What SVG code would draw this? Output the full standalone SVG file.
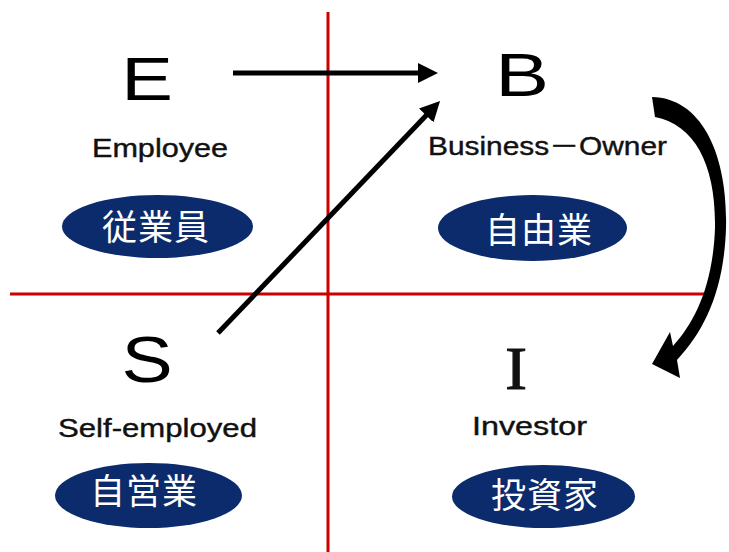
<svg xmlns="http://www.w3.org/2000/svg" width="729" height="552" viewBox="0 0 729 552">
<style>
.big{font-family:"Liberation Sans",Arial,sans-serif;font-size:62px;fill:#000;text-anchor:middle}
.lbl{font-family:"Liberation Sans","Noto Sans CJK JP",Arial,sans-serif;font-size:25px;fill:#111;stroke:#111;stroke-width:0.4}
.pill{fill:#0b2b6c}
.jp{font-family:"Noto Sans CJK JP",sans-serif;font-size:35px;fill:#fff;text-anchor:middle;letter-spacing:1px}
.axis{stroke:#cc0000;stroke-width:3;fill:none}
.arr{stroke:#000;stroke-width:5;fill:none;marker-end:url(#ah)}
</style>
<defs>
<marker id="ah" markerUnits="userSpaceOnUse" viewBox="0 0 20 20" refX="4" refY="10" markerWidth="20" markerHeight="20" orient="auto">
<path d="M0,0 L20,10 L0,20 Z" fill="#000"/>
</marker>
</defs>
<rect width="729" height="552" fill="#fff"/>
<g id="axes">
<line class="axis" x1="328" y1="12" x2="328" y2="552"/>
<line class="axis" x1="10" y1="294" x2="704" y2="294"/>
</g>
<g id="node-E">
<text class="big" transform="translate(147,100) scale(1.25,1)">E</text>
<text class="lbl" x="92" y="157" textLength="136" lengthAdjust="spacingAndGlyphs">Employee</text>
<ellipse class="pill" cx="157.5" cy="226.5" rx="95.5" ry="31.5"/>
<text class="jp" x="156" y="240">従業員</text>
</g>
<g id="node-B">
<text class="big" transform="translate(522,96) scale(1.3,1)">B</text>
<text class="lbl" x="428" y="155" textLength="239" lengthAdjust="spacingAndGlyphs">Business－Owner</text>
<ellipse class="pill" cx="532.5" cy="228" rx="94.5" ry="33"/>
<text class="jp" x="539" y="243">自由業</text>
</g>
<g id="node-S">
<text class="big" transform="translate(147,382) scale(1.2,1)" style="font-size:64px">S</text>
<text class="lbl" x="58" y="437" textLength="199" lengthAdjust="spacingAndGlyphs">Self-employed</text>
<ellipse class="pill" cx="148.5" cy="495.5" rx="93.5" ry="32.5"/>
<text class="jp" x="144" y="504">自営業</text>
</g>
<g id="node-I">
<text transform="translate(516,389) scale(1.05,1)" style="font-family:'Liberation Serif','Times New Roman',serif;font-size:62px;text-anchor:middle;fill:#111;stroke:#111;stroke-width:1.2">I</text>
<text class="lbl" x="472" y="435" textLength="115" lengthAdjust="spacingAndGlyphs">Investor</text>
<ellipse class="pill" cx="543.5" cy="496.5" rx="91.5" ry="31.5"/>
<text class="jp" x="545" y="508">投資家</text>
</g>
<g id="connectors">
<line class="arr" x1="233" y1="73" x2="422" y2="73"/>
<line class="arr" x1="218" y1="333" x2="429" y2="112.6"/>
<path d="M652,97 C702,98 728,155 726,228 C724,290 705,330 677,360 L680,378 L652,364 L670,332 L673,346 C695,322 713,285 715,228 C716,165 695,125 655,117 Z" fill="#000"/>
</g>
</svg>
